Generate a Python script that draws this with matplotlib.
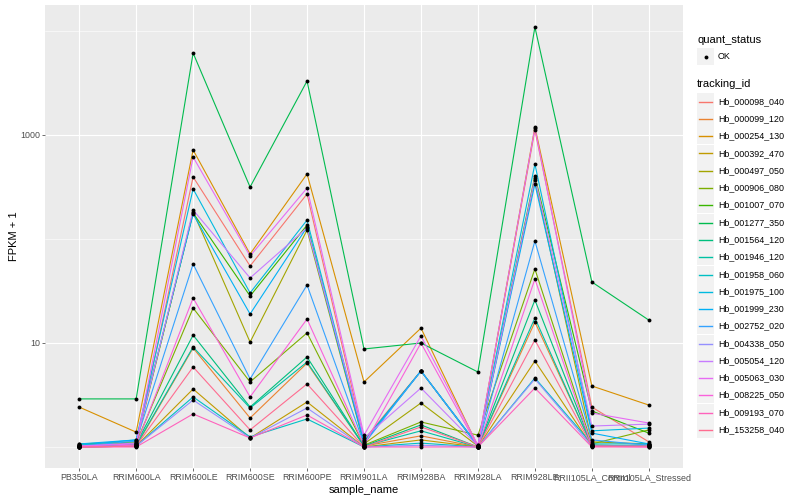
import numpy as np
import matplotlib
matplotlib.use("Agg")
import matplotlib.pyplot as plt
from matplotlib.lines import Line2D
from matplotlib.patches import Rectangle

plt.rcParams['font.family'] = ['Liberation Sans', 'DejaVu Sans']

samples = ["PB350LA", "RRIM600LA", "RRIM600LE", "RRIM600SE", "RRIM600PE",
           "RRIM901LA", "RRIM928BA", "RRIM928LA", "RRIM928LE",
           "RRII105LA_Control", "RRII105LA_Stressed"]

tracking_ids = ["Hb_000098_040", "Hb_000099_120", "Hb_000254_130", "Hb_000392_470",
                "Hb_000497_050", "Hb_000906_080", "Hb_001007_070", "Hb_001277_350",
                "Hb_001564_120", "Hb_001946_120", "Hb_001958_060", "Hb_001975_100",
                "Hb_001999_230", "Hb_002752_020", "Hb_004338_050", "Hb_005054_120",
                "Hb_005063_030", "Hb_008225_050", "Hb_009193_070", "Hb_153258_040"]

# FPKM + 1, one row per tracking_id, one column per sample
fpkm = [
    [1.02, 1.04, 395, 55.0, 271, 1.17, 5.4, 1.02, 1117, 2.42, 1.12],
    [1.0, 1.02, 8.95, 1.90, 6.4, 1.02, 1.28, 1.0, 15.9, 1.04, 1.02],
    [2.42, 1.39, 718, 71.7, 422, 4.22, 13.9, 1.02, 1194, 3.86, 2.53],
    [1.0, 1.02, 3.61, 1.22, 2.71, 1.0, 1.17, 1.0, 6.71, 1.02, 1.04],
    [1.02, 1.07, 182, 10.2, 122, 1.07, 2.65, 1.02, 370, 1.12, 1.07],
    [1.04, 1.09, 21.7, 4.22, 12.5, 1.04, 1.74, 1.30, 51.5, 1.07, 1.46],
    [1.07, 1.12, 178, 28.3, 136, 1.12, 5.38, 1.02, 404, 2.22, 1.36],
    [2.90, 2.90, 6140, 316, 3305, 8.76, 10.0, 5.26, 10920, 38.6, 16.6],
    [1.02, 1.07, 11.9, 2.42, 7.33, 1.02, 1.63, 1.0, 25.9, 1.04, 1.02],
    [1.02, 1.04, 9.15, 2.37, 6.56, 1.02, 1.43, 1.0, 17.4, 1.02, 1.04],
    [1.0, 1.02, 3.03, 1.25, 1.86, 1.0, 1.09, 1.0, 4.61, 1.07, 1.07],
    [1.04, 1.17, 303, 30.3, 152, 1.14, 5.38, 1.04, 526, 1.43, 1.52],
    [1.07, 1.17, 174, 19.0, 130, 1.09, 5.38, 1.02, 338, 1.36, 1.07],
    [1.02, 1.14, 57.5, 4.51, 36.1, 1.07, 5.38, 1.02, 95.6, 1.17, 1.04],
    [1.0, 1.02, 2.83, 1.22, 2.37, 1.0, 1.04, 1.0, 4.51, 1.02, 1.02],
    [1.02, 1.09, 190, 42.2, 128, 1.22, 3.69, 1.02, 386, 1.59, 1.66],
    [1.02, 1.07, 614, 68.6, 309, 1.30, 11.7, 1.04, 1168, 2.12, 1.70],
    [1.0, 1.04, 27.1, 3.03, 17.0, 1.04, 10.0, 1.0, 41.2, 1.02, 1.0],
    [1.0, 1.0, 2.08, 1.22, 2.03, 1.0, 1.0, 1.0, 3.69, 1.0, 1.0],
    [1.0, 1.02, 5.88, 1.46, 4.04, 1.0, 1.56, 1.0, 10.7, 1.02, 1.02],
]

colors = ["#F8766D", "#EA8331", "#D89000", "#C09B00", "#A3A500", "#7CAE00",
          "#39B600", "#00BB4E", "#00BF7D", "#00C1A3", "#00BFC4", "#00BAE0",
          "#00B0F6", "#35A2FF", "#9590FF", "#C77CFF", "#E76BF3", "#FA62DB",
          "#FF62BC", "#FF6C90"]

fig = plt.figure(figsize=(8, 5), dpi=100)
ax = fig.add_axes([45 / 800, 1 - 468 / 500, 638 / 800, 463 / 500])
ax.set_facecolor("#EBEBEB")

x = np.arange(len(samples))
for vals, c in zip(fpkm, colors):
    ax.plot(x, vals, color=c, lw=0.8, zorder=3)
for vals in fpkm:
    ax.plot(x, vals, 'o', color='black', ms=2.8, zorder=4, mec='none')

ax.set_yscale('log')
ax.set_xlim(-0.6, len(samples) - 0.4)
ax.set_ylim(10 ** -0.202, 10 ** 4.25)
ax.set_yticks([10, 1000])
ax.set_yticklabels(["10", "1000"])
ax.set_yticks([1, 100, 10000], minor=True)
ax.yaxis.set_minor_formatter(plt.NullFormatter())
ax.set_xticks(x)
ax.set_xticklabels(samples)

ax.grid(True, which='major', color='white', lw=0.8, zorder=1)
ax.grid(True, which='minor', axis='y', color='white', lw=0.4, zorder=1)
ax.set_axisbelow(True)
for s in ax.spines.values():
    s.set_visible(False)
ax.tick_params(which='major', length=2, width=0.5, color='#333333',
               labelsize=6.4, labelcolor='#4D4D4D', pad=1.5)
ax.tick_params(which='minor', length=0)

ax.set_xlabel("sample_name", fontsize=8, color='black', labelpad=2)
ax.set_ylabel("FPKM + 1", fontsize=8, color='black', labelpad=1)

# legends drawn in pixel layout like ggplot
def fx(px):
    return px / 800

def fy(py):
    return 1 - py / 500

fig.text(fx(697), fy(40), "quant_status", fontsize=8, va='center', ha='left')
fig.patches.append(Rectangle((fx(697), fy(65)), 17 / 800, 17 / 500, transform=fig.transFigure,
                             facecolor='#F2F2F2', edgecolor='none'))
fig.lines.append(Line2D([fx(705.5)], [fy(56.5)], marker='o', ms=2.8, color='black',
                        mec='none', transform=fig.transFigure))
fig.text(fx(718), fy(56.5), "OK", fontsize=6.4, va='center', ha='left')

fig.text(fx(697), fy(84), "tracking_id", fontsize=8, va='center', ha='left')
for i, (tid, c) in enumerate(zip(tracking_ids, colors)):
    yc = round(100.7 + i * 17.28) + 0.5
    fig.patches.append(Rectangle((fx(697), fy(yc + 8.5)), 17 / 800, 17 / 500,
                                 transform=fig.transFigure, facecolor='#F2F2F2',
                                 edgecolor='none'))
    fig.lines.append(Line2D([fx(699), fx(712)], [fy(yc), fy(yc)], color=c, lw=1.0,
                            transform=fig.transFigure))
    fig.text(fx(718), fy(yc), tid, fontsize=6.4, va='center', ha='left')

fig.savefig("out.png", dpi=100)
